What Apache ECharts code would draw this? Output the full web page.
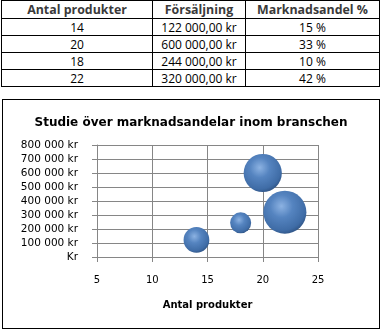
<!DOCTYPE html>
<html>
<head>
<meta charset="utf-8">
<script src="https://cdn.jsdelivr.net/npm/echarts@6/dist/echarts.min.js"></script>
<style>
body { margin: 0; background: #fff; width: 381px; height: 331px; overflow: hidden; }
#tbl {
    position: absolute; left: 1px; top: 0px;
    border-collapse: collapse;
    font-family: "Open Sans", sans-serif; font-size: 12px; color: #000;
}
#tbl td, #tbl th { border: 1px solid #000; padding: 0; text-align: center; line-height: 15px; }
#tbl th { font-weight: bold; color: #3a3a3a; height: 17px; font-size: 12.4px; }
#tbl td { height: 16px; }
#main {
    position: absolute; left: 2px; top: 99px;
    width: 378px; height: 230px;
    border: 1px solid #000; box-sizing: border-box;
}
</style>
</head>
<body>
<table id="tbl"></table>
<div id="main"></div>
<script>
// data
var headers = ['Antal produkter', 'Försäljning', 'Marknadsandel %']
var antal = [14, 20, 18, 22]
var forsaljning = [122000, 600000, 244000, 320000]
var andel = [15, 33, 10, 42]

function fmt_kr(v) {
    // 122000 -> "122 000"
    return String(v).replace(/\B(?=(\d{3})+(?!\d))/g, ' ')
}

// bygg tabellen
var tbl = document.getElementById('tbl')
var html = '<tr>' +
    '<th style="width:150px">' + headers[0] + '</th>' +
    '<th style="width:92px">' + headers[1] + '</th>' +
    '<th style="width:133px">' + headers[2] + '</th></tr>'
for (var i = 0; i < antal.length; i++) {
    html += '<tr><td>' + antal[i] + '</td><td>' + fmt_kr(forsaljning[i]) + ',00 kr</td><td>' +
        andel[i] + ' %</td></tr>'
}
tbl.innerHTML = html

var myChart = echarts.init(document.getElementById('main'))

var bubbles = antal.map(function (x, i) { return [x, forsaljning[i], andel[i]] })

var grey = '#868686'
var option = {
    animation: false,
    title: {
        text: 'Studie över marknadsandelar inom branschen',
        left: 'center',
        top: 12,
        textStyle: { fontFamily: 'DejaVu Sans', fontSize: 12, fontWeight: 'bold', color: '#000' }
    },
    grid: { left: 94, right: 61, top: 45, bottom: 71 },
    xAxis: {
        type: 'value',
        min: 5, max: 25, interval: 5,
        name: 'Antal produkter',
        nameLocation: 'middle',
        nameGap: 43,
        nameTextStyle: { fontFamily: 'DejaVu Sans', fontSize: 10, fontWeight: 'bold', color: '#000', verticalAlign: 'top' },
        axisLine: { show: true, lineStyle: { color: grey } },
        axisTick: { show: true, length: 5, lineStyle: { color: grey } },
        splitLine: { show: true, lineStyle: { color: grey } },
        axisLabel: { margin: 18, fontFamily: 'DejaVu Sans', fontSize: 10, color: '#000', verticalAlign: 'top' }
    },
    yAxis: {
        type: 'value',
        min: 0, max: 800000, interval: 100000,
        axisLine: { show: true, lineStyle: { color: grey } },
        axisTick: { show: true, length: 5, lineStyle: { color: grey } },
        splitLine: { show: true, lineStyle: { color: grey } },
        axisLabel: {
            margin: 19, fontFamily: 'DejaVu Sans', fontSize: 10.5, color: '#000',
            formatter: function (v) { return v === 0 ? 'Kr' : fmt_kr(v) + ' kr' }
        }
    },
    series: [{
        type: 'scatter',
        data: bubbles,
        symbolSize: function (d) { return 6.65 * Math.sqrt(d[2]) },
        itemStyle: {
            opacity: 1,
            color: new echarts.graphic.RadialGradient(0.42, 0.36, 0.75, [
                { offset: 0, color: '#8cb2e2' },
                { offset: 0.35, color: '#5584c0' },
                { offset: 0.75, color: '#3f6ca6' },
                { offset: 1, color: '#23416b' }
            ])
        }
    }]
}
myChart.setOption(option)
</script>
</body>
</html>
